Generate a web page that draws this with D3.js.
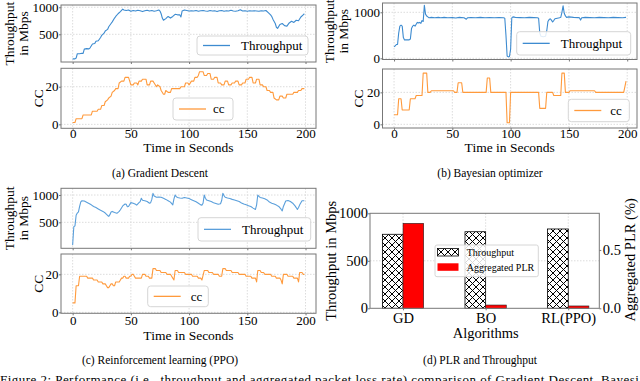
<!DOCTYPE html>
<html>
<head>
<meta charset="utf-8">
<script src="https://cdn.jsdelivr.net/npm/d3@7"></script>
<style>
  body { margin: 0; background: #fff; }
  svg { display: block; }
  #fig text { font-family: "Liberation Serif", "Times New Roman", Times, serif; }
</style>
</head>
<body>
<svg id="fig" width="640" height="381"></svg>
<script>
// ---- data ----
const timeTicks = [0, 50, 100, 150, 200];

// (a) gradient descent: [seconds, value]
const gdThroughput = [[0,45],[2,45],[3,60],[4,140],[6,140],[8,150],[9,145],[10,225],[12,235],[14,230],[15,250],[17,320],[19,330],[20,370],[22,380],[24,440],[25,480],[27,520],[28,560],[30,590],[31,640],[33,700],[34,730],[36,800],[37,830],[39,880],[41,920],[43,965],[44,950],[46,940],[48,950],[50,925],[52,940],[54,930],[56,945],[58,935],[60,920],[62,935],[64,945],[66,930],[68,940],[70,925],[72,935],[74,950],[75,930],[76,880],[77,800],[78,760],[80,790],[82,830],[84,800],[86,830],[88,870],[90,860],[92,860],[93,820],[94,930],[96,950],[98,940],[100,930],[102,935],[104,930],[106,940],[108,925],[110,935],[112,940],[114,930],[116,925],[118,940],[120,930],[122,935],[124,920],[126,935],[128,940],[130,925],[132,935],[134,930],[136,945],[138,930],[140,925],[142,935],[144,955],[146,930],[148,935],[150,925],[152,935],[154,930],[156,935],[158,930],[160,925],[162,935],[164,930],[166,940],[168,900],[170,860],[171,830],[172,780],[174,700],[175,630],[176,610],[178,680],[180,700],[182,660],[184,650],[186,710],[188,740],[190,720],[192,760],[194,750],[196,820],[198,860],[199,880]];
const gdCC = [[0,1],[2,1],[3,3],[8,3],[9,5],[16,5],[17,7],[21,7],[22,8],[24,8],[25,10],[27,10],[28,12],[30,13],[31,14],[33,15],[34,17],[36,18],[37,19],[39,19],[40,22],[42,23],[44,23],[45,25],[48,25],[49,23],[50,21],[52,21],[53,22],[55,22],[56,21],[57,23],[59,23],[60,24],[63,24],[64,21],[66,21],[67,23],[69,23],[70,22],[72,20],[73,21],[75,20],[76,18],[78,16],[79,16],[80,18],[82,17],[84,17],[85,19],[92,19],[93,20],[96,20],[97,22],[99,22],[100,21],[102,23],[104,23],[105,25],[107,25],[108,26],[109,28],[112,28],[113,26],[115,26],[116,27],[118,27],[119,24],[121,24],[122,25],[124,25],[125,22],[127,22],[128,21],[130,21],[131,23],[133,23],[134,21],[136,21],[137,22],[139,22],[140,23],[142,23],[143,21],[145,21],[146,22],[148,22],[149,24],[151,24],[152,25],[154,25],[155,22],[157,22],[158,24],[160,24],[161,21],[163,21],[164,20],[166,20],[167,18],[169,18],[170,17],[172,17],[173,14],[175,13],[177,13],[178,15],[180,15],[181,14],[183,14],[184,16],[189,16],[190,17],[193,17],[194,18],[196,18],[197,19],[199,19]];

// (b) bayesian optimizer
const boThroughput = [[0,250],[1,270],[2,300],[3,300],[4,550],[5,700],[6,720],[7,700],[8,450],[9,400],[11,400],[13,400],[14,420],[15,650],[16,700],[17,720],[18,700],[19,740],[20,780],[21,770],[22,780],[23,760],[24,820],[25,800],[26,1150],[27,960],[28,920],[29,900],[30,880],[32,890],[35,880],[38,890],[40,880],[43,890],[46,880],[50,885],[53,875],[56,890],[60,880],[62,850],[63,880],[66,885],[70,880],[74,890],[78,880],[82,885],[86,880],[90,885],[94,880],[95,870],[96,500],[97,50],[98,30],[99,40],[100,200],[101,880],[102,900],[104,890],[108,885],[112,880],[116,890],[120,885],[123,880],[124,870],[125,550],[126,480],[128,470],[130,480],[131,600],[132,800],[133,840],[134,860],[135,830],[136,790],[137,820],[138,860],[140,870],[142,880],[143,890],[144,1000],[145,1140],[146,980],[147,920],[148,890],[150,900],[154,890],[158,885],[159,880],[160,830],[161,880],[164,890],[168,885],[172,880],[176,890],[180,885],[184,880],[188,890],[192,885],[196,880],[199,890]];
const boCC = [[0,6],[3,6],[4,16],[6,16],[7,9],[13,9],[14,16],[18,16],[19,18],[24,18],[25,32],[28,32],[29,20],[31,20],[32,21],[51,21],[52,20],[54,20],[55,26],[58,26],[59,20],[79,20],[80,29],[82,29],[83,20],[96,20],[97,1],[99,1],[100,20],[124,20],[125,10],[130,10],[131,20],[136,20],[137,18],[143,18],[144,32],[146,32],[147,20],[150,20],[151,21],[172,21],[173,20],[197,20],[199,27]];

// (c) reinforcement learning (PPO)
const ppoThroughput = [[0,85],[1,420],[2,435],[3,630],[4,670],[5,690],[6,790],[7,875],[8,895],[10,890],[12,868],[14,845],[16,820],[18,790],[20,770],[22,745],[24,720],[26,700],[28,670],[30,625],[31,610],[32,640],[33,690],[34,700],[36,680],[38,665],[40,700],[41,730],[43,800],[45,835],[46,830],[47,785],[48,790],[50,860],[52,850],[54,830],[55,815],[57,860],[58,880],[59,940],[60,905],[62,895],[64,880],[66,850],[67,860],[68,920],[69,1030],[70,980],[72,960],[74,965],[76,960],[78,940],[80,920],[82,895],[84,870],[86,820],[87,930],[88,1000],[89,970],[90,955],[92,945],[94,940],[96,955],[98,945],[100,935],[102,915],[104,895],[106,875],[108,850],[110,820],[111,815],[112,850],[113,1000],[114,940],[115,910],[117,895],[119,880],[121,860],[123,845],[125,830],[127,840],[128,900],[129,1030],[130,990],[131,960],[133,945],[135,935],[137,920],[139,910],[141,895],[143,880],[145,855],[147,835],[149,820],[151,805],[153,790],[155,760],[157,735],[158,820],[159,1000],[160,975],[161,955],[163,945],[165,930],[167,910],[169,870],[171,850],[173,835],[175,815],[177,790],[179,740],[180,710],[181,790],[183,890],[185,900],[187,880],[189,850],[191,800],[192,770],[193,735],[194,770],[195,820],[197,895],[199,895]];
const ppoCC = [[0,5],[2,5],[3,14],[5,14],[6,19],[12,19],[13,18],[17,18],[18,17],[21,17],[22,16],[25,16],[26,15],[28,15],[29,14],[30,13],[31,13],[32,14],[33,15],[34,15],[35,14],[36,14],[37,16],[40,16],[41,17],[42,18],[43,18],[44,19],[45,19],[46,18],[48,18],[49,19],[50,19],[51,20],[52,20],[53,19],[54,18],[59,18],[60,20],[62,20],[63,19],[65,19],[66,18],[68,18],[69,23],[71,23],[72,22],[75,22],[76,21],[80,21],[81,20],[84,20],[85,19],[86,18],[87,17],[88,22],[90,22],[91,21],[96,21],[97,20],[102,20],[103,19],[107,19],[108,18],[110,18],[111,17],[113,22],[116,22],[117,21],[120,21],[121,20],[125,20],[126,19],[128,19],[129,23],[131,23],[132,22],[136,22],[137,21],[142,21],[143,20],[148,20],[149,19],[153,19],[154,18],[157,18],[158,16],[159,22],[161,22],[162,21],[164,21],[165,20],[170,20],[171,19],[174,19],[175,18],[178,18],[179,17],[180,15],[181,20],[184,20],[185,19],[189,19],[190,18],[193,18],[194,16],[195,21],[197,21],[198,20],[199,20]];

// (d) averages per algorithm
const algorithms = ["GD", "BO", "RL(PPO)"];
const avgThroughput = [779, 806, 835];
const aggregatedPLR = [0.728, 0.028, 0.02];

// ---- drawing ----
const FONT = '"Liberation Serif", "Times New Roman", Times, serif';
const BLUE = "#3d8bd0";
const ORANGE = "#ff9a3c";
const SPINE = "#777";
const GRID = "#dcdcdc";

const svg = d3.select("#fig");

function styleAxis(a, fs) {
  a.attr("font-family", FONT).attr("font-size", fs);
  a.select(".domain").remove();
  a.selectAll(".tick line").attr("stroke", SPINE);
  a.selectAll(".tick text").attr("fill", "#000");
}

function legendBox(g, box, label, color, fs) {
  g.append("rect")
    .attr("x", box.x).attr("y", box.y)
    .attr("width", box.w).attr("height", box.h)
    .attr("rx", 3)
    .attr("fill", "#fff").attr("fill-opacity", 0.85)
    .attr("stroke", "#d6d6d6").attr("stroke-width", 1);
  const cy = box.y + box.h / 2;
  g.append("line")
    .attr("x1", box.x + 6).attr("x2", box.x + 33)
    .attr("y1", cy).attr("y2", cy)
    .attr("stroke", color).attr("stroke-width", 1.3);
  g.append("text")
    .attr("x", box.x + box.textOff).attr("y", cy + 4.3)
    .attr("font-size", fs).text(label);
}

function vText(g, x, y, str, fs) {
  g.append("text")
    .attr("transform", `translate(${x},${y}) rotate(-90)`)
    .attr("text-anchor", "middle")
    .attr("dominant-baseline", "central")
    .attr("font-size", fs)
    .text(str);
}

// one time-series panel: two stacked axes sharing x
function timePanel(p) {
  const g = svg.append("g");
  const x = d3.scaleLinear().domain(p.xDomain).range([p.left, p.right]);

  p.rows.forEach((r, i) => {
    const y = d3.scaleLinear().domain(r.yDomain).range([r.bottom, r.top]);

    // dotted grid
    g.append("g").selectAll("line").data(timeTicks).join("line")
      .attr("x1", d => x(d)).attr("x2", d => x(d))
      .attr("y1", r.top).attr("y2", r.bottom)
      .attr("stroke", GRID).attr("stroke-dasharray", "1.5,1.5");
    g.append("g").selectAll("line").data(r.yTicks).join("line")
      .attr("x1", p.left).attr("x2", p.right)
      .attr("y1", d => y(d)).attr("y2", d => y(d))
      .attr("stroke", GRID).attr("stroke-dasharray", "1.5,1.5");

    g.append("path")
      .datum(r.data)
      .attr("fill", "none")
      .attr("stroke", r.color)
      .attr("stroke-width", 1.1)
      .attr("stroke-linejoin", "round")
      .attr("d", d3.line().x(d => x(d[0])).y(d => y(d[1])));

    g.append("rect")
      .attr("x", p.left).attr("y", r.top)
      .attr("width", p.right - p.left).attr("height", r.bottom - r.top)
      .attr("fill", "none").attr("stroke", SPINE).attr("stroke-width", 1);

    const ya = g.append("g")
      .attr("transform", `translate(${p.left},0)`)
      .call(d3.axisLeft(y).tickValues(r.yTicks).tickSize(2).tickPadding(0.5).tickFormat(d3.format("d")));
    styleAxis(ya, 13);

    const last = i === p.rows.length - 1;
    const xa = g.append("g")
      .attr("transform", `translate(0,${r.bottom})`)
      .call(d3.axisBottom(x).tickValues(timeTicks).tickSize(2).tickPadding(p.xPad)
        .tickFormat(last ? d3.format("d") : () => ""));
    styleAxis(xa, 13);

    legendBox(g, r.legend, r.label, r.color, 13);

    r.ylabel.forEach(l => vText(g, l.x, (r.top + r.bottom) / 2, l.text, 13.5));
  });

  g.append("text")
    .attr("x", (p.left + p.right) / 2).attr("y", p.xlabelY)
    .attr("text-anchor", "middle").attr("font-size", 13.5)
    .text("Time in Seconds");
  g.append("text")
    .attr("x", p.capX).attr("y", p.capY)
    .attr("text-anchor", "middle").attr("font-size", 11.5)
    .text(p.caption);
}

timePanel({
  left: 61, right: 316, xDomain: [-10, 209], xPad: -1.5,
  xlabelY: 151.5, capX: 160, capY: 177, caption: "(a) Gradient Descent",
  rows: [
    { top: 5, bottom: 62, yDomain: [-13, 1042], yTicks: [500, 1000], data: gdThroughput,
      color: BLUE, label: "Throughput", legend: { x: 197, y: 36, w: 111, h: 19, textOff: 44 },
      ylabel: [{ x: 9, text: "Throughput" }, { x: 23, text: "in Mbps" }] },
    { top: 68.3, bottom: 128.3, yDomain: [-2.1, 29.8], yTicks: [0, 20], data: gdCC,
      color: ORANGE, label: "cc", legend: { x: 173, y: 98, w: 60, h: 22, textOff: 40 },
      ylabel: [{ x: 38, text: "CC" }] }
  ]
});

timePanel({
  left: 382.5, right: 637, xDomain: [-9.9, 208.4], xPad: -1.5,
  xlabelY: 151.5, capX: 490, capY: 177, caption: "(b) Bayesian optimizer",
  rows: [
    { top: 3, bottom: 59.5, yDomain: [-26, 1202], yTicks: [0, 1000], data: boThroughput,
      color: BLUE, label: "Throughput", legend: { x: 516.7, y: 31.7, w: 114, h: 23.3, textOff: 44 },
      ylabel: [{ x: 329, text: "Throughput" }, { x: 343, text: "in Mbps" }] },
    { top: 69, bottom: 128, yDomain: [-2.3, 34.6], yTicks: [0, 20], data: boCC,
      color: ORANGE, label: "cc", legend: { x: 568.3, y: 99.3, w: 61, h: 22.4, textOff: 42 },
      ylabel: [{ x: 358, text: "CC" }] }
  ]
});

timePanel({
  left: 61, right: 316, xDomain: [-10, 209], xPad: 0,
  xlabelY: 339.5, capX: 160, capY: 364, caption: "(c) Reinforcement learning (PPO)",
  rows: [
    { top: 188.3, bottom: 248.3, yDomain: [24, 1123], yTicks: [500, 1000], data: ppoThroughput,
      color: "#5a9fdb", label: "Throughput", legend: { x: 198, y: 217.7, w: 112.7, h: 23.3, textOff: 44 },
      ylabel: [{ x: 9, text: "Throughput" }, { x: 23, text: "in Mbps" }] },
    { top: 254, bottom: 313.3, yDomain: [-0.5, 30.7], yTicks: [0, 20], data: ppoCC,
      color: ORANGE, label: "cc", legend: { x: 147.7, y: 286, w: 60.6, h: 20.7, textOff: 43 },
      ylabel: [{ x: 38, text: "CC" }] }
  ]
});

// (d) grouped bars with twin y axis
(function barPanel() {
  const g = svg.append("g");
  const L = 370, R = 599.3, T = 213.3, B = 308.3;
  const x = d3.scaleLinear().domain([-0.4, 2.376]).range([L, R]);
  const y = d3.scaleLinear().domain([0, 1000]).range([B, T]);
  const y2 = d3.scaleLinear().domain([0, 0.814]).range([B, T]);
  const bw = 0.25;

  const defs = svg.append("defs");
  const pat = defs.append("pattern")
    .attr("id", "xhatch").attr("patternUnits", "userSpaceOnUse")
    .attr("width", 7).attr("height", 7);
  pat.append("rect").attr("width", 7).attr("height", 7).attr("fill", "#fff");
  pat.append("path").attr("d", "M0,0L7,7M7,0L0,7")
    .attr("stroke", "#000").attr("stroke-width", 1);

  // grid
  g.append("g").selectAll("line").data([500]).join("line")
    .attr("x1", L).attr("x2", R).attr("y1", d => y(d)).attr("y2", d => y(d))
    .attr("stroke", GRID).attr("stroke-dasharray", "1.5,1.5");
  g.append("g").selectAll("line").data(algorithms).join("line")
    .attr("x1", (d, i) => x(i)).attr("x2", (d, i) => x(i)).attr("y1", T).attr("y2", B)
    .attr("stroke", GRID).attr("stroke-dasharray", "1.5,1.5");

  g.append("g").selectAll("rect").data(avgThroughput).join("rect")
    .attr("x", (d, i) => x(i - bw)).attr("width", (d, i) => x(i) - x(i - bw))
    .attr("y", d => y(d)).attr("height", d => B - y(d))
    .attr("fill", "url(#xhatch)").attr("stroke", "#000").attr("stroke-width", 0.8);

  g.append("g").selectAll("rect").data(aggregatedPLR).join("rect")
    .attr("x", (d, i) => x(i)).attr("width", (d, i) => x(i + bw) - x(i))
    .attr("y", d => y2(d)).attr("height", d => B - y2(d))
    .attr("fill", "#ff0000").attr("stroke", "#222").attr("stroke-width", 0.6);

  g.append("rect")
    .attr("x", L).attr("y", T).attr("width", R - L).attr("height", B - T)
    .attr("fill", "none").attr("stroke", SPINE).attr("stroke-width", 1);

  const ya = g.append("g").attr("transform", `translate(${L},0)`)
    .call(d3.axisLeft(y).tickValues([0, 500, 1000]).tickSize(2).tickPadding(0).tickFormat(d3.format("d")));
  styleAxis(ya, 14.5);
  const yb = g.append("g").attr("transform", `translate(${R},0)`)
    .call(d3.axisRight(y2).tickValues([0, 0.5]).tickSize(2).tickPadding(1.5).tickFormat(d3.format(".1f")));
  styleAxis(yb, 14.5);
  const xa = g.append("g").attr("transform", `translate(0,${B})`)
    .call(d3.axisBottom(x).tickValues([0, 1, 2]).tickSize(2).tickPadding(2).tickFormat(i => algorithms[i]));
  styleAxis(xa, 14.5);

  // legend
  const lg = g.append("g");
  lg.append("rect").attr("x", 435).attr("y", 245).attr("width", 103.3).attr("height", 31.7)
    .attr("rx", 2).attr("fill", "#fff").attr("fill-opacity", 0.85)
    .attr("stroke", "#d6d6d6");
  lg.append("rect").attr("x", 437.5).attr("y", 248.5).attr("width", 21).attr("height", 7.5)
    .attr("fill", "url(#xhatch)").attr("stroke", "#000").attr("stroke-width", 0.8);
  lg.append("rect").attr("x", 437.5).attr("y", 263.3).attr("width", 21).attr("height", 7.5)
    .attr("fill", "#ff0000");
  lg.append("text").attr("x", 466.7).attr("y", 256).attr("font-size", 10).text("Throughput");
  lg.append("text").attr("x", 466.7).attr("y", 271).attr("font-size", 10).text("Aggregated PLR");

  g.append("text").attr("x", 485.7).attr("y", 338)
    .attr("text-anchor", "middle").attr("font-size", 14.5).text("Algorithms");
  vText(g, 331, (T + B) / 2, "Throughput in Mbps", 14.5);
  vText(g, 630, (T + B) / 2 - 1, "Aggregated PLR (%)", 14.5);

  g.append("text").attr("x", 480).attr("y", 364)
    .attr("text-anchor", "middle").attr("font-size", 11.5).text("(d) PLR and Throughput");
})();

// figure caption, cut off at the bottom edge
svg.append("text")
  .attr("x", 0).attr("y", 384)
  .attr("font-size", 13)
  .attr("textLength", 652).attr("lengthAdjust", "spacing")
  .text("Figure 2: Performance (i.e., throughput and aggregated packet loss rate) comparison of Gradient Descent, Bayesian");
</script>
</body>
</html>
